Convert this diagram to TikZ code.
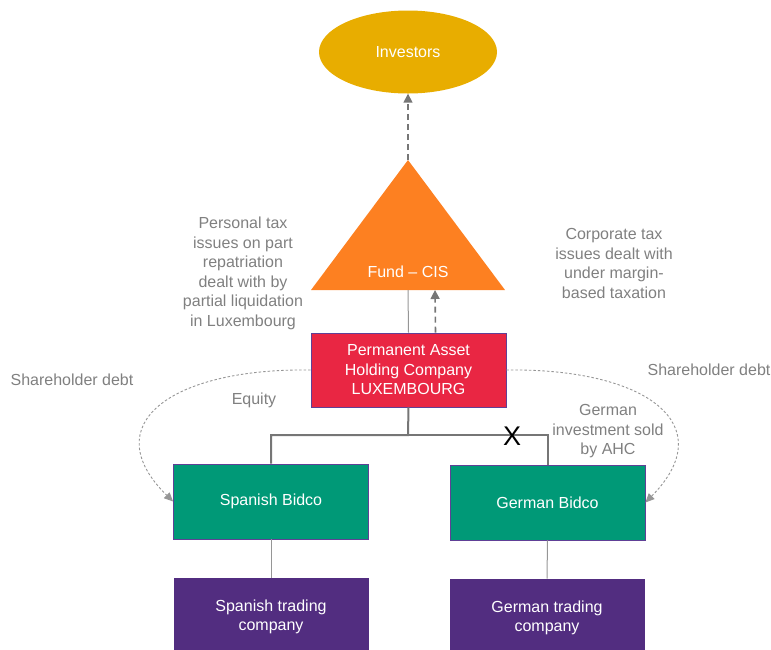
\documentclass[tikz,border=0pt]{standalone}
\usepackage{fontspec}
\setmainfont{Liberation Sans}
\usepackage{tikz}
\usetikzlibrary{shapes.geometric,arrows.meta}
\definecolor{invgold}{RGB}{232,173,0}
\definecolor{fundorange}{RGB}{253,128,33}
\definecolor{luxred}{RGB}{233,38,67}
\definecolor{bidgreen}{RGB}{0,153,119}
\definecolor{tradepurple}{RGB}{82,45,128}
\definecolor{boxline}{RGB}{96,64,150}
\definecolor{notegray}{RGB}{128,128,128}
\definecolor{arrowgray}{RGB}{118,118,118}
\definecolor{linkgray}{RGB}{150,150,150}
\tikzset{
  x=1pt, y=-1pt,
  every node/.style={font=\fontsize{16}{19.5}\selectfont, inner sep=0pt},
  crowd/.style={ellipse, fill=invgold, text=white, minimum width=178pt, minimum height=83pt},
  box/.style={rectangle, draw=boxline, line width=.8pt, text=white, minimum width=195pt, align=center},
  holdco/.style={box, fill=luxred, minimum height=74pt},
  bidco/.style={box, fill=bidgreen, minimum height=75pt},
  tradeco/.style={box, fill=tradepurple, draw=none, minimum height=78pt},
  note/.style={text=notegray, align=center},
  flow/.style={draw=arrowgray, line width=1.6pt, dash pattern=on 6pt off 4pt, -{Triangle[length=9pt,width=9pt]}},
  debt/.style={draw=linkgray, line width=.9pt, dash pattern=on 2.5pt off 2pt, -{Triangle[length=9pt,width=8pt]}},
  tie/.style={draw=arrowgray, line width=2pt},
  link/.style={draw=linkgray, line width=1pt}
  }

\begin{document}
\begin{tikzpicture}
    \useasboundingbox (0,0) rectangle (771,649);

    \node [crowd] (inv) at (408,52) {Investors};

    % the fund is drawn as a plain triangle
    \coordinate (apex) at (408,160);
    \coordinate (fundbase) at (408,290);
    \fill [fundorange] (apex) -- (311,290) -- (505,290) -- cycle;
    \node [text=white] (fund) at (408,272) {Fund – CIS};

    \node [holdco] (ahc) at (408.5,370) {Permanent Asset\\Holding Company\\LUXEMBOURG};
    \node [bidco] (spbid) at (271,501.5) {Spanish Bidco};
    \node [bidco] (gebid) at (547.5,502.5) {German Bidco};
    \node [tradeco] (sptrade) at (271,617) {Spanish trading\\company};
    \node [tradeco] (getrade) at (547,618) {German trading\\company};

    \node [note] (perstax) at (243,273.5) {Personal tax\\issues on part\\repatriation\\dealt with by\\partial liquidation\\in Luxembourg};
    \node [note] (corptax) at (614,263.5) {Corporate tax\\issues dealt with\\under margin-\\based taxation};
    \node [note] (spdebt) at (72,380) {Shareholder debt};
    \node [note] (gedebt) at (709,370) {Shareholder debt};
    \node [note] (equity) at (254,400) {Equity};
    \node [note] (sold) at (608,431.5) {German\\investment sold\\by AHC};

    % returns flowing up
    \draw [flow] (apex) -- (inv.south);
    \draw [flow] ([xshift=27pt]ahc.north) -- ([xshift=27pt]fundbase);
    \draw [link] (fundbase) -- (ahc.north);

    % ownership tree below the holding company
    \coordinate (split) at (408,435);
    \draw [tie] (ahc.south) -- (split) -| (spbid.north);
    \draw [tie] (split) -| (gebid.north);
    \node [font=\fontsize{27}{27}\selectfont] (cut) at (512,436) {X};
    \draw [link] (spbid.south) -- (sptrade.north);
    \draw [link] (gebid.south) -- (getrade.north);

    % shareholder debt loops
    \draw [debt] (ahc.west) .. controls (170,368) and (95,425) .. (spbid.west);
    \draw [debt] (ahc.east) .. controls (647,368) and (722,425) .. (gebid.east);
\end{tikzpicture}
\end{document}
